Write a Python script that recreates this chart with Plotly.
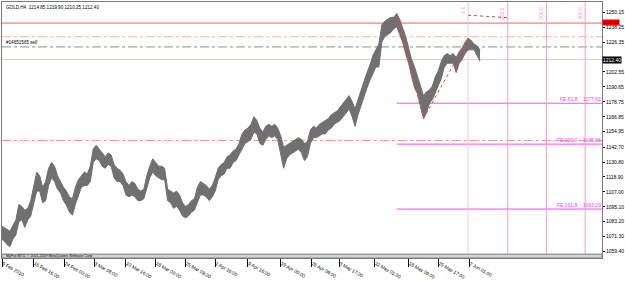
import plotly.graph_objects as go

# ---- data ----
bar_index = list(range(0, 484, 3))
highs = [
    1080.2, 1078.7, 1077.1, 1075.6, 1080.2, 1084.7, 1096.9, 1095.4, 1092.4, 1093.9,
    1100.0, 1110.6, 1122.8, 1119.8, 1110.6, 1115.2, 1125.8, 1130.4, 1127.4, 1119.8,
    1115.2, 1110.6, 1107.6, 1103.0, 1101.5, 1110.6, 1116.7, 1119.8, 1122.8, 1121.3,
    1127.4, 1141.1, 1144.1, 1141.1, 1138.0, 1135.0, 1138.0, 1136.5, 1128.9, 1125.8,
    1124.3, 1121.3, 1115.2, 1112.1, 1115.2, 1113.7, 1109.1, 1107.6, 1109.1, 1119.8,
    1127.4, 1133.4, 1130.4, 1127.4, 1127.4, 1125.8, 1109.1, 1107.6, 1106.1, 1107.6,
    1104.5, 1098.4, 1095.4, 1096.9, 1100.0, 1101.5, 1110.6, 1115.2, 1113.7, 1112.1,
    1109.1, 1112.1, 1118.2, 1125.8, 1128.9, 1130.4, 1135.0, 1136.5, 1139.5, 1141.1,
    1145.6, 1153.2, 1156.3, 1157.8, 1160.8, 1166.9, 1163.9, 1157.8, 1154.7, 1159.3,
    1160.8, 1159.3, 1160.8, 1157.8, 1151.7, 1142.6, 1144.1, 1145.6, 1147.1, 1148.7,
    1150.2, 1148.7, 1145.6, 1147.1, 1156.3, 1159.3, 1157.8, 1160.8, 1162.4, 1163.9,
    1165.4, 1168.5, 1170.0, 1171.5, 1174.6, 1177.6, 1180.6, 1183.7, 1179.1, 1173.0,
    1180.6, 1188.2, 1194.3, 1202.0, 1208.0, 1215.6, 1220.2, 1224.8, 1240.0, 1243.0,
    1244.6, 1246.1, 1246.1, 1249.1, 1244.6, 1238.5, 1230.9, 1221.7, 1212.6, 1206.5,
    1198.9, 1192.8, 1183.7, 1186.7, 1188.2, 1191.3, 1198.9, 1203.5, 1211.1, 1215.6,
    1217.2, 1215.6, 1217.2, 1214.1, 1218.7, 1221.7, 1226.3, 1229.4, 1227.8, 1224.8,
    1223.3, 1220.2,
]
lows = [
    1069.5, 1068.0, 1065.0, 1063.4, 1069.5, 1072.6, 1083.2, 1084.7, 1078.7, 1084.7,
    1087.8, 1096.9, 1107.6, 1107.6, 1098.4, 1100.0, 1112.1, 1118.2, 1115.2, 1109.1,
    1106.1, 1100.0, 1096.2, 1090.8, 1088.6, 1096.9, 1104.5, 1110.6, 1112.1, 1112.1,
    1115.2, 1130.4, 1133.4, 1131.9, 1127.4, 1125.8, 1128.9, 1127.4, 1118.2, 1115.2,
    1115.2, 1112.1, 1104.5, 1103.0, 1104.5, 1103.0, 1100.0, 1100.0, 1101.5, 1109.1,
    1118.2, 1122.8, 1119.8, 1118.2, 1116.7, 1116.7, 1100.0, 1098.4, 1093.9, 1095.4,
    1092.4, 1087.8, 1086.3, 1087.8, 1090.8, 1092.4, 1098.4, 1104.5, 1104.5, 1103.0,
    1100.0, 1103.0, 1107.6, 1116.7, 1119.8, 1121.3, 1125.8, 1125.8, 1130.4, 1131.9,
    1136.5, 1141.1, 1145.6, 1147.1, 1148.7, 1154.7, 1153.2, 1145.6, 1144.1, 1148.7,
    1151.7, 1150.2, 1151.7, 1148.7, 1138.0, 1125.8, 1133.4, 1136.5, 1138.0, 1139.5,
    1141.1, 1138.0, 1131.9, 1135.0, 1145.6, 1150.2, 1150.2, 1151.7, 1153.2, 1153.2,
    1156.3, 1157.8, 1160.8, 1162.4, 1163.9, 1166.9, 1170.0, 1173.0, 1166.9, 1159.3,
    1168.5, 1176.1, 1183.7, 1189.8, 1195.9, 1202.0, 1206.5, 1206.5, 1226.3, 1230.9,
    1232.4, 1233.9, 1237.0, 1238.5, 1232.4, 1226.3, 1217.2, 1209.5, 1198.9, 1189.8,
    1185.2, 1176.1, 1165.4, 1170.0, 1177.6, 1180.6, 1186.7, 1191.3, 1197.4, 1206.5,
    1209.5, 1209.5, 1209.5, 1202.0, 1209.5, 1212.6, 1217.2, 1220.2, 1220.2, 1220.2,
    1215.6, 1211.1,
]

ytick_vals = [1250.15, 1238.25, 1226.35, 1202.55, 1190.65, 1178.75, 1166.85,
              1154.95, 1142.70, 1130.80, 1118.90, 1107.00, 1095.10, 1083.20, 1071.30, 1059.40]
ytick_text = ["1250.15", "1238.25", "1226.35", "1202.55", "1190.65", "1178.75", "1166.85",
              "1154.95", "1142.70", "1130.80", "1118.90", "1107.00", "1095.10", "1083.20", "1071.30", "1059.40"]

xtick_bars = [1, 33, 64, 94, 126, 156, 186, 216, 249, 282, 313, 341, 377, 411, 441, 472]
xtick_text = ["9 Feb 2010", "16 Feb 16:00", "24 Feb 00:00", "3 Mar 08:00", "10 Mar 16:00",
              "18 Mar 00:00", "25 Mar 08:00", "1 Apr 16:00", "9 Apr 16:00", "19 Apr 00:00",
              "26 Apr 08:00", "3 May 17:00", "11 May 01:00", "18 May 09:00", "25 May 17:00",
              "2 Jun 01:00"]

# horizontal levels
red_level = 1241.50
orange_level = 1230.60
order_level = 1222.50
bid_level = 1212.40
lower_dd_level = 1147.90

# Fibonacci expansion
fe_labels = ["FE 61.8", "FE 100.0", "FE 161.8"]
fe_values = [1177.63, 1145.06, 1093.29]
fe_start_bar = 399
fe_anchor_bars = [399, 426, 471]
fe_anchor_prices = [1249.1, 1165.4, 1229.4]

# Fibonacci time zones
tz_labels = ["0.0", "100.0", "200.0", "300.0"]
tz_bars = [471, 511, 550, 589]
tz_trend_bars = [471, 511]
tz_trend_prices = [1247.8, 1245.8]

YMIN, YMAX = 1054.3, 1258.3
XMIN, XMAX = 1, 606
FONT = "Liberation Sans"
FS = 5
CANDLE = "#707070"

fig = go.Figure()
# price range band (low edge first, then high edge filled to it)
fig.add_trace(go.Scatter(x=bar_index, y=lows, mode="lines",
                         line=dict(color=CANDLE, width=1),
                         hoverinfo="skip", showlegend=False))
fig.add_trace(go.Scatter(x=bar_index, y=highs, mode="lines", fill="tonexty",
                         fillcolor=CANDLE, line=dict(color=CANDLE, width=1),
                         hoverinfo="skip", showlegend=False))

fig.add_trace(go.Scatter(x=fe_anchor_bars, y=fe_anchor_prices, mode="lines",
                         line=dict(color="#FF3B3B", width=1, dash="dot"),
                         hoverinfo="skip", showlegend=False))
fig.add_trace(go.Scatter(x=tz_trend_bars, y=tz_trend_prices, mode="lines",
                         line=dict(color="#B05050", width=1, dash="dot"),
                         hoverinfo="skip", showlegend=False))

shapes = []
def hline(y, color, dash="solid", x0=XMIN, width=1):
    shapes.append(dict(type="line", xref="x", yref="y", x0=x0, x1=XMAX, y0=y, y1=y,
                       line=dict(color=color, width=width, dash=dash), layer="below"))

hline(red_level, "#FF5A5A")
hline(orange_level, "#FFB391", "dashdot")
hline(order_level, "#6FA36F", "dashdot")
hline(bid_level, "#D9CDBE")
hline(lower_dd_level, "#F39A82", "dashdot")
for v in fe_values:
    hline(v, "#FF4DFF", x0=fe_start_bar)

for i, b in enumerate(tz_bars):
    shapes.append(dict(type="line", xref="x", yref="y", x0=b, x1=b, y0=YMIN + 3.1, y1=YMAX,
                       line=dict(color="#FFBFE0" if i == 0 else "#FF99D0", width=1),
                       layer="below"))

# bottom band
shapes.append(dict(type="rect", xref="paper", yref="y", x0=0, x1=1, y0=YMIN, y1=YMIN + 3.1,
                   fillcolor="#D4D4D4", line=dict(color="#808080", width=1)))

annotations = []
annotations.append(dict(text="GOLD,H4  1214.85 1219.90 1210.25 1212.40", xref="paper", yref="paper",
                        x=0.004, y=0.995, xanchor="left", yanchor="top", showarrow=False,
                        font=dict(family=FONT, size=4.6, color="#000000")))
annotations.append(dict(text="#14651565 sell", xref="paper", yref="y", x=0.004, y=order_level,
                        xanchor="left", yanchor="bottom", showarrow=False,
                        font=dict(family=FONT, size=4.6, color="#000000")))
annotations.append(dict(text="MyFxx MT4, © 2001-2009 MetaQuotes Software Corp.", xref="paper", yref="y",
                        x=0.004, y=YMIN + 1.55, xanchor="left", yanchor="middle", showarrow=False,
                        font=dict(family=FONT, size=3.6, color="#000000")))
for lab, v in zip(fe_labels, fe_values):
    annotations.append(dict(text=lab, xref="x", yref="y", x=583, y=v, xanchor="right", yanchor="bottom",
                            showarrow=False, borderpad=0, font=dict(family=FONT, size=FS, color="#FF33FF")))
    annotations.append(dict(text=f"{v:.2f}", xref="x", yref="y", x=606, y=v, xanchor="right",
                            yanchor="bottom", showarrow=False, borderpad=0,
                            font=dict(family=FONT, size=FS, color="#FF33FF")))
for lab, b in zip(tz_labels, tz_bars):
    annotations.append(dict(text=lab, xref="x", yref="paper", x=b - 1, y=0.985, xanchor="right",
                            yanchor="top", textangle=-90, showarrow=False, borderpad=0,
                            font=dict(family=FONT, size=FS, color="#F28FC8")))
annotations.append(dict(text="1241.50", xref="paper", yref="y", x=1.0, y=red_level + 0.5, xanchor="left",
                        yanchor="middle", showarrow=False, bgcolor="#FF0000", borderpad=0,
                        font=dict(family=FONT, size=4.3, color="#000000")))
annotations.append(dict(text="1212.40", xref="paper", yref="y", x=1.0, y=bid_level, xanchor="left",
                        yanchor="middle", showarrow=False, bgcolor="#000000", borderpad=0,
                        font=dict(family=FONT, size=FS, color="#FFFFFF")))

fig.update_layout(
    width=625, height=281,
    margin=dict(l=1, r=19, t=2, b=11),
    paper_bgcolor="#FFFFFF", plot_bgcolor="#FFFFFF",
    shapes=shapes, annotations=annotations,
    showlegend=False,
    font=dict(family=FONT, size=FS, color="#000000"),
)
fig.update_xaxes(range=[XMIN, XMAX], tickvals=xtick_bars, ticktext=xtick_text,
                 ticks="outside", ticklen=8, tickcolor="#000000", tickwidth=1,
                 ticklabelposition="outside right", showgrid=False, zeroline=False,
                 showline=True, linecolor="#7A7A7A", linewidth=1, mirror=True,
                 tickfont=dict(family=FONT, size=4.8, color="#000000"))
fig.update_yaxes(range=[YMIN, YMAX], side="right", tickvals=ytick_vals, ticktext=ytick_text,
                 ticks="outside", ticklen=2, tickcolor="#000000", showgrid=False, zeroline=False,
                 showline=True, linecolor="#7A7A7A", linewidth=1, mirror=True,
                 tickfont=dict(family=FONT, size=FS, color="#000000"))

fig.write_html("out.html")
